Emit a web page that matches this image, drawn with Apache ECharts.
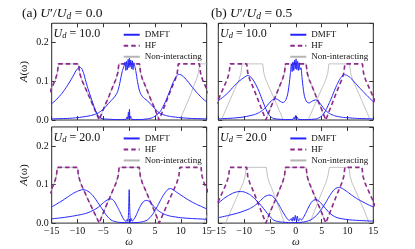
<!DOCTYPE html>
<html><head><meta charset="utf-8">
<script src="https://cdn.jsdelivr.net/npm/echarts@6/dist/echarts.min.js"></script>
<style>html,body{margin:0;padding:0;background:#fff}#c{width:415px;height:249px}</style>
</head><body><div id="c"></div>
<script>
// ---- ticks / labels ----
const xTicks = [-15,-10,-5,0,5,10,15];
const xTickLabels = ['\u221215','\u221210','\u22125','0','5','10','15'];
const yTicks = [0,0.1,0.2];
const yTickLabels = ['0.0','0.1','0.2'];
const panelLetters = ['(a)','(b)'];
const ratioValues = ['0.0','0.5'];
const udValues = ['10.0','20.0'];
const seriesNames = ['DMFT','HF','Non-interacting'];

// ---- (a) U'/Ud=0.0, Ud=10 ----
const a10_dmftA = [[-15,0.042],[-14,0.054],[-13,0.069],[-12,0.088],[-11,0.11],[-10.3,0.127],[-9.6,0.137],[-9.2,0.133],[-8.8,0.12],[-8.4,0.1],[-8,0.082],[-7.5,0.062],[-7,0.042],[-6.5,0.024],[-6,0.011],[-5.5,0.005],[-5,0.003],[-4,0.002],[-2,0.001],[-0.6,0.002],[-0.4,0.008],[-0.3,0.002],[-0.15,0.02],[-0.05,0.003],[0.05,0.028],[0.15,0.004],[0.3,0.01],[0.45,0.002],[2,0.001],[3.5,0.003],[4.5,0.006],[5.5,0.015],[6,0.022],[6.5,0.033],[7,0.047],[7.5,0.063],[8,0.08],[8.5,0.097],[9,0.11],[9.5,0.118],[10,0.117],[10.5,0.112],[11,0.105],[11.5,0.097],[12,0.088],[12.5,0.08],[13,0.072],[13.5,0.065],[14,0.058],[14.5,0.052],[15,0.047]];
const a10_dmftB = [[-15,0.003],[-12,0.004],[-10,0.006],[-8,0.01],[-7,0.013],[-6,0.018],[-5,0.028],[-4.5,0.035],[-4,0.043],[-3.5,0.05],[-3,0.057],[-2.5,0.066],[-2.2,0.075],[-1.9,0.09],[-1.6,0.11],[-1.3,0.128],[-1.0,0.14],[-0.8,0.15],[-0.65,0.128],[-0.5,0.152],[-0.35,0.13],[-0.2,0.157],[-0.08,0.135],[0.05,0.16],[0.18,0.138],[0.3,0.155],[0.45,0.132],[0.6,0.153],[0.75,0.13],[0.9,0.148],[1.1,0.138],[1.3,0.125],[1.6,0.1],[1.9,0.08],[2.2,0.068],[2.6,0.06],[3,0.055],[3.5,0.05],[4,0.043],[4.5,0.036],[5,0.029],[5.5,0.022],[6,0.017],[7,0.012],[8,0.009],[10,0.006],[12,0.004],[15,0.003]];
const a10_hf = [[-17.7,0],[-16.7,0.031],[-15.7,0.062],[-14.7,0.092],[-14.3,0.104],[-13.9,0.122],[-13.7,0.145],[-9.8,0.145],[-9.6,0.122],[-9.2,0.104],[-8.8,0.092],[-7.8,0.062],[-6.8,0.031],[-5.8,0],[-4.9,0.031],[-3.9,0.062],[-3.0,0.092],[-2.6,0.104],[-2.2,0.122],[-2.0,0.145],[2.0,0.145],[2.2,0.122],[2.6,0.104],[3.0,0.092],[3.9,0.062],[4.9,0.031],[5.8,0],[6.7,0.031],[7.6,0.062],[8.5,0.092],[8.9,0.104],[9.3,0.122],[9.5,0.145],[13.6,0.145],[13.8,0.122],[14.2,0.104],[14.6,0.092],[15.6,0.062]];
const a10_ni = [
  [[-17.7,0],[-16.7,0.031],[-15.7,0.062],[-14.7,0.092],[-14.3,0.104],[-13.9,0.122],[-13.7,0.145],[-9.8,0.145],[-9.6,0.122],[-9.2,0.104],[-8.8,0.092],[-7.8,0.062],[-6.8,0.031],[-5.8,0],[-4.9,0.031],[-3.9,0.062],[-3.0,0.092],[-2.6,0.104],[-2.2,0.122],[-2.0,0.145],[2.0,0.145],[2.2,0.122],[2.6,0.104],[3.0,0.092],[3.9,0.062],[4.9,0.031],[5.8,0]],
  [[9.8,0],[10.8,0.031],[11.8,0.062],[12.6,0.092],[13.0,0.104],[13.4,0.122],[13.6,0.145],[16,0.145]]
];

// ---- (b) U'/Ud=0.5, Ud=10 ----
const b10_dmftA = [[-15,0.05],[-14,0.06],[-13,0.072],[-12,0.087],[-11,0.1],[-10,0.11],[-9.3,0.115],[-9,0.114],[-8.5,0.108],[-8,0.098],[-7.5,0.085],[-7,0.07],[-6.5,0.052],[-6,0.035],[-5.5,0.02],[-5,0.01],[-4.5,0.005],[-4,0.003],[-2,0.001],[-0.5,0.002],[-0.3,0.008],[-0.15,0.002],[0,0.012],[0.15,0.002],[0.3,0.007],[0.5,0.002],[2,0.001],[4,0.003],[5,0.01],[5.5,0.018],[6,0.03],[6.5,0.045],[7,0.06],[7.5,0.077],[8,0.092],[8.5,0.105],[9,0.114],[9.4,0.117],[9.8,0.116],[10.5,0.11],[11,0.103],[11.6,0.094],[12,0.088],[13,0.074],[14,0.06],[15,0.047]];
const b10_dmftB = [[-15,0.003],[-12,0.005],[-10,0.008],[-8,0.014],[-7,0.02],[-6,0.03],[-5.5,0.038],[-5,0.046],[-4.5,0.052],[-4,0.055],[-3.5,0.053],[-3,0.048],[-2.5,0.045],[-2,0.05],[-1.6,0.065],[-1.3,0.09],[-1.05,0.12],[-0.85,0.145],[-0.7,0.125],[-0.55,0.15],[-0.4,0.128],[-0.25,0.155],[-0.1,0.132],[0.05,0.158],[0.2,0.13],[0.35,0.152],[0.5,0.128],[0.65,0.148],[0.8,0.13],[1.0,0.135],[1.2,0.11],[1.45,0.08],[1.7,0.06],[2.1,0.047],[2.6,0.044],[3.2,0.049],[3.8,0.052],[4.3,0.049],[4.8,0.041],[5.3,0.032],[5.8,0.024],[6.5,0.017],[7.5,0.011],[9,0.007],[12,0.004],[15,0.003]];
const b10_hf = [[-16.7,0],[-15.7,0.031],[-14.7,0.062],[-13.7,0.092],[-13.3,0.104],[-12.9,0.122],[-12.7,0.145],[-9.5,0.145],[-9.3,0.122],[-8.9,0.104],[-8.5,0.092],[-7.6,0.062],[-6.7,0.031],[-5.8,0],[-4.9,0.031],[-3.9,0.062],[-3.0,0.092],[-2.6,0.104],[-2.2,0.122],[-2.0,0.145],[2.0,0.145],[2.2,0.122],[2.6,0.104],[3.0,0.092],[3.9,0.062],[4.9,0.031],[5.8,0],[6.7,0.031],[7.6,0.062],[8.5,0.092],[8.9,0.104],[9.3,0.122],[9.5,0.145],[12.9,0.145],[13.1,0.122],[13.5,0.104],[13.9,0.092],[14.9,0.062],[15.9,0.031]];
const b10_ni = [
  [[-14.4,0],[-13.4,0.031],[-12.4,0.062],[-11.4,0.092],[-11.0,0.104],[-10.6,0.122],[-10.4,0.145],[-6.4,0.145],[-6.2,0.122],[-5.8,0.104],[-5.4,0.092],[-4.4,0.062],[-3.4,0.031],[-2.4,0]],
  [[-5.8,0],[-4.9,0.031],[-3.9,0.062],[-3.0,0.092],[-2.6,0.104],[-2.2,0.122],[-2.0,0.145],[2.0,0.145],[2.2,0.122],[2.6,0.104],[3.0,0.092],[3.9,0.062],[4.9,0.031],[5.8,0]],
  [[2.4,0],[3.4,0.031],[4.4,0.062],[5.4,0.092],[5.8,0.104],[6.2,0.122],[6.4,0.145],[10.4,0.145],[10.6,0.122],[11.0,0.104],[11.4,0.092],[12.4,0.062],[13.4,0.031],[14.4,0]]
];

// ---- (a) U'/Ud=0.0, Ud=20 ----
const a20_dmftA = [[-15,0.042],[-14,0.05],[-13,0.058],[-12,0.067],[-11,0.076],[-10,0.083],[-9,0.087],[-8.5,0.086],[-8,0.083],[-7.5,0.078],[-7,0.071],[-6.5,0.062],[-6,0.052],[-5.5,0.042],[-5,0.032],[-4.5,0.022],[-4,0.014],[-3.5,0.008],[-3,0.005],[-2,0.002],[0,0.001],[2,0.002],[3,0.005],[3.5,0.008],[4,0.014],[4.5,0.022],[5,0.033],[5.5,0.045],[6,0.058],[6.5,0.07],[7,0.08],[7.5,0.088],[8,0.09],[8.5,0.087],[9,0.082],[10,0.073],[11,0.064],[12,0.056],[13,0.049],[14,0.043],[15,0.037]];
const a20_dmftB = [[-15,0.011],[-13,0.014],[-11,0.018],[-9,0.023],[-8,0.027],[-7,0.033],[-6,0.041],[-5.5,0.047],[-5,0.053],[-4.5,0.058],[-4,0.062],[-3.6,0.063],[-3.2,0.061],[-2.8,0.055],[-2.4,0.045],[-2,0.035],[-1.6,0.024],[-1.2,0.013],[-0.9,0.007],[-0.6,0.004],[-0.4,0.01],[-0.25,0.004],[-0.12,0.03],[0,0.087],[0.12,0.03],[0.25,0.004],[0.4,0.012],[0.6,0.005],[0.9,0.01],[1.2,0.016],[1.6,0.028],[2,0.04],[2.5,0.052],[3,0.058],[3.4,0.059],[3.8,0.057],[4.3,0.051],[4.8,0.043],[5.3,0.036],[6,0.029],[7,0.022],[8,0.018],[10,0.014],[12,0.012],[15,0.01]];
const a20_hf = [[-17.9,0],[-16.9,0.031],[-15.9,0.062],[-14.9,0.092],[-14.5,0.104],[-14.1,0.122],[-13.9,0.145],[-10.0,0.145],[-9.8,0.122],[-9.4,0.104],[-9.0,0.092],[-8.0,0.062],[-6.9,0.031],[-5.8,0],[-4.9,0.031],[-3.9,0.062],[-2.95,0.092],[-2.55,0.104],[-2.15,0.122],[-1.95,0.145],[1.95,0.145],[2.15,0.122],[2.55,0.104],[2.95,0.092],[3.9,0.062],[4.9,0.031],[5.8,0],[6.8,0.031],[7.8,0.062],[8.8,0.092],[9.2,0.104],[9.6,0.122],[9.8,0.145],[13.9,0.145],[14.1,0.122],[14.5,0.104],[14.9,0.092],[15.9,0.062]];
const a20_ni = [
  [[-17.9,0],[-16.9,0.031],[-15.9,0.062],[-14.9,0.092],[-14.5,0.104],[-14.1,0.122],[-13.9,0.145],[-10.0,0.145],[-9.8,0.122],[-9.4,0.104],[-9.0,0.092],[-8.0,0.062],[-6.9,0.031],[-5.8,0],[-4.9,0.031],[-3.9,0.062],[-2.95,0.092],[-2.55,0.104],[-2.15,0.122],[-1.95,0.145],[1.95,0.145],[2.15,0.122],[2.55,0.104],[2.95,0.092],[3.9,0.062],[4.9,0.031],[5.8,0]],
  [[14.4,0],[15.4,0.031]]
];

// ---- (b) U'/Ud=0.5, Ud=20 ----
const b20_dmftA = [[-15,0.052],[-14,0.063],[-13,0.072],[-12,0.079],[-11,0.082],[-10.5,0.082],[-10,0.081],[-9,0.075],[-8,0.064],[-7.5,0.057],[-7,0.05],[-6.5,0.042],[-6,0.034],[-5.5,0.025],[-5,0.017],[-4.5,0.01],[-4,0.006],[-3,0.003],[-1,0.001],[1,0.002],[2,0.004],[3,0.009],[3.5,0.014],[4,0.02],[4.5,0.028],[5,0.037],[5.5,0.047],[6,0.058],[6.5,0.07],[7,0.08],[7.5,0.088],[8,0.092],[8.5,0.093],[9,0.09],[10,0.081],[11,0.071],[12,0.062],[13,0.055],[14,0.048],[15,0.042]];
const b20_dmftB = [[-15,0.014],[-13,0.02],[-11,0.027],[-9,0.037],[-8,0.045],[-7,0.056],[-6.5,0.063],[-6,0.069],[-5.5,0.072],[-5,0.073],[-4.5,0.07],[-4,0.063],[-3.5,0.053],[-3,0.041],[-2.5,0.029],[-2,0.018],[-1.6,0.01],[-1.2,0.007],[-0.9,0.012],[-0.7,0.005],[-0.5,0.016],[-0.3,0.006],[-0.1,0.02],[0.1,0.007],[0.3,0.018],[0.5,0.005],[0.8,0.012],[1.1,0.008],[1.5,0.015],[2,0.028],[2.5,0.042],[3,0.054],[3.5,0.06],[4,0.061],[4.5,0.057],[5,0.05],[5.5,0.042],[6,0.034],[6.5,0.027],[7,0.021],[8,0.014],[10,0.009],[12,0.007],[15,0.005]];
const b20_hf = [[-16.8,0],[-15.8,0.031],[-14.8,0.062],[-13.8,0.092],[-13.4,0.104],[-13.0,0.122],[-12.8,0.145],[-9.5,0.145],[-9.3,0.122],[-8.9,0.104],[-8.5,0.092],[-7.6,0.062],[-6.7,0.031],[-5.8,0],[-4.9,0.031],[-3.9,0.062],[-3.0,0.092],[-2.6,0.104],[-2.2,0.122],[-2.0,0.145],[2.0,0.145],[2.2,0.122],[2.6,0.104],[3.0,0.092],[3.9,0.062],[4.9,0.031],[5.8,0],[6.7,0.031],[7.6,0.062],[8.5,0.092],[8.9,0.104],[9.3,0.122],[9.5,0.145],[12.8,0.145],[13.0,0.122],[13.4,0.104],[13.8,0.092],[14.8,0.062],[15.8,0.031]];
const b20_ni = [
  [[-13.6,0],[-12.6,0.031],[-11.6,0.062],[-10.6,0.092],[-10.2,0.104],[-9.8,0.122],[-9.6,0.145],[-5.7,0.145],[-5.5,0.122],[-5.1,0.104],[-4.7,0.092],[-3.9,0.062],[-3.0,0.031],[-2.2,0]],
  [[-5.8,0],[-4.9,0.031],[-3.9,0.062],[-3.0,0.092],[-2.6,0.104],[-2.2,0.122],[-2.0,0.145],[2.0,0.145],[2.2,0.122],[2.6,0.104],[3.0,0.092],[3.9,0.062],[4.9,0.031],[5.8,0]],
  [[2.7,0],[3.6,0.031],[4.5,0.062],[5.4,0.092],[5.8,0.104],[6.2,0.122],[6.5,0.145],[10.3,0.145],[10.5,0.122],[10.9,0.104],[11.3,0.092],[12.3,0.062],[13.3,0.031],[14.2,0]]
];

// ---- layout ----
const FONT = 'Liberation Serif';
const C_DMFT = '#2424ff', C_HF = '#8c2a8c', C_NI = '#b4b4b4', C_TXT = '#111';
const panels = [
  {dmft:[a10_dmftA,a10_dmftB], hf:a10_hf, ni:a10_ni},
  {dmft:[b10_dmftA,b10_dmftB], hf:b10_hf, ni:b10_ni},
  {dmft:[a20_dmftA,a20_dmftB], hf:a20_hf, ni:a20_ni},
  {dmft:[b20_dmftA,b20_dmftB], hf:b20_hf, ni:b20_ni}
];
const gridBoxes = [
  {left:51.7, top:23.25, width:155, height:96.75},
  {left:218.3, top:23.25, width:155, height:96.75},
  {left:51.7, top:126.95, width:155, height:96.75},
  {left:218.3, top:126.95, width:155, height:96.75}
];

const xFmt = v => { const k = xTicks.findIndex(t => Math.abs(t - v) < 1e-9); return k < 0 ? '' : xTickLabels[k]; };
const yFmt = v => { const k = yTicks.findIndex(t => Math.abs(t - v) < 1e-9); return k < 0 ? '' : yTickLabels[k]; };

const tick = {show:true, inside:true, length:4, lineStyle:{color:'#333', width:1}};
const noLine = {show:false, onZero:false};
const grid = [], xAxis = [], yAxis = [], series = [], legend = [], title = [], graphic = [];

gridBoxes.forEach((b, i) => {
  const isLeft = i % 2 === 0, isBottom = i >= 2;
  grid.push(Object.assign({show:true, borderColor:'#2a2a2a', borderWidth:1, backgroundColor:'transparent', containLabel:false}, b));
  const xBase = {type:'value', gridIndex:i, min:-15, max:15, interval:5, axisLine:noLine, splitLine:{show:false}, axisTick:tick};
  const xb = Object.assign({}, xBase, {position:'bottom',
    axisLabel:{show:isBottom, formatter:xFmt, margin:3, fontSize:10, fontFamily:FONT, color:C_TXT, showMinLabel:true, showMaxLabel:true}});
  if (isBottom) Object.assign(xb, {name:'ω', nameLocation:'middle', nameGap:12,
    nameTextStyle:{fontSize:11, fontStyle:'italic', fontFamily:FONT, color:C_TXT}});
  xAxis.push(xb);
  xAxis.push(Object.assign({}, xBase, {position:'top', axisLabel:{show:false}}));
  const yBase = {type:'value', gridIndex:i, min:0, max:0.25, interval:0.1, axisLine:noLine, splitLine:{show:false}, axisTick:tick};
  const yl = Object.assign({}, yBase, {position:'left',
    axisLabel:{show:isLeft, formatter:yFmt, margin:3, fontSize:10, fontFamily:FONT, color:C_TXT, showMaxLabel:false}});
  if (isLeft) Object.assign(yl, {name:'{i|A}(ω)', nameLocation:'middle', nameGap:22,
    nameTextStyle:{fontSize:11, fontFamily:FONT, color:C_TXT, rich:{i:{fontSize:11, fontStyle:'italic', fontFamily:FONT, color:C_TXT}}}});
  yAxis.push(yl);
  yAxis.push(Object.assign({}, yBase, {position:'right', axisLabel:{show:false}}));

  const p = panels[i];
  p.ni.forEach(band => series.push({type:'line', name:seriesNames[2], xAxisIndex:2*i, yAxisIndex:2*i, data:band,
    symbol:'none', lineStyle:{color:C_NI, width:0.8}, itemStyle:{color:C_NI}, z:2, silent:true}));
  series.push({type:'line', name:seriesNames[1], xAxisIndex:2*i, yAxisIndex:2*i, data:p.hf,
    symbol:'none', lineStyle:{color:C_HF, width:1.6, type:[4.5,3]}, itemStyle:{color:C_HF}, z:3, silent:true});
  p.dmft.forEach(d => series.push({type:'line', name:seriesNames[0], xAxisIndex:2*i, yAxisIndex:2*i, data:d,
    symbol:'none', smooth:0.2, lineStyle:{color:C_DMFT, width:1}, itemStyle:{color:C_DMFT}, z:4, silent:true}));

  legend.push({orient:'vertical', left: b.left + 71, top: b.top + 6, padding:0, itemGap:0, itemWidth:16, itemHeight:4,
    data: seriesNames, selectedMode:false, itemStyle:{opacity:0},
    textStyle:{fontSize:9, fontFamily:FONT, color:C_TXT, lineHeight:11}});

  title.push({left: b.left + 1.8, top: b.top + 3.5, padding:0, textAlign:'left', textVerticalAlign:'top',
    text: '{i|U}{s|d}{n| = ' + udValues[isBottom ? 1 : 0] + '}',
    textStyle:{fontWeight:'normal', rich:{
      n:{fontSize:12, fontFamily:FONT, fontWeight:'normal', color:C_TXT, lineHeight:14},
      i:{fontSize:12, fontFamily:FONT, fontWeight:'normal', fontStyle:'italic', color:C_TXT, lineHeight:14},
      s:{fontSize:8.5, fontFamily:FONT, fontWeight:'normal', fontStyle:'italic', color:C_TXT, lineHeight:7, verticalAlign:'bottom'}}}});
});

// panel headings (a)/(b)
[22, 211].forEach((lx, k) => {
  graphic.push({type:'text', x: lx, y: 5, silent:true, z:100,
    style:{
      text: '{n|' + panelLetters[k] + ' }{i|U}{n|′/}{i|U}{s|d}{n| = ' + ratioValues[k] + '}',
      align:'left', verticalAlign:'top', fill:C_TXT,
      rich:{
        n:{fontSize:13.5, fontFamily:FONT, fill:C_TXT, lineHeight:16},
        i:{fontSize:13.5, fontFamily:FONT, fontStyle:'italic', fill:C_TXT, lineHeight:16},
        s:{fontSize:9.5, fontFamily:FONT, fontStyle:'italic', fill:C_TXT, lineHeight:8, verticalAlign:'bottom'}}}});
});

const chart = echarts.init(document.getElementById('c'), null, {renderer:'canvas'});
chart.setOption({animation:false, textStyle:{fontFamily:FONT}, grid, xAxis, yAxis, series, legend, title, graphic});
</script></body></html>
